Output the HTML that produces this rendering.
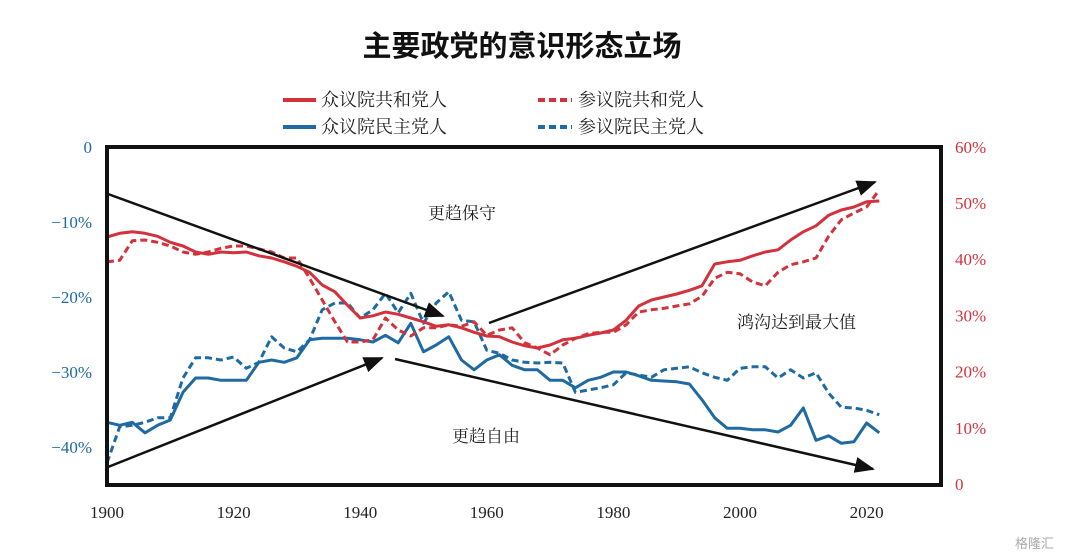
<!DOCTYPE html>
<html><head><meta charset="utf-8">
<style>
html,body{margin:0;padding:0;background:#fff;width:1080px;height:558px;overflow:hidden}
svg{display:block}
.serif{font-family:"Liberation Serif","Noto Serif CJK SC",serif}
.title{font-family:"Liberation Sans","Noto Sans CJK SC",sans-serif;font-weight:bold}
</style></head>
<body>
<svg id="chart" width="1080" height="558" viewBox="0 0 1080 558" xmlns="http://www.w3.org/2000/svg">
  <text class="title" x="522" y="56" font-size="29" text-anchor="middle" fill="#111">主要政党的意识形态立场</text>
  <g class="serif" font-size="18" fill="#222">
    <g>
      <line x1="283" y1="100" x2="316" y2="100" stroke="#d2323c" stroke-width="4"/>
      <text x="321" y="106">众议院共和党人</text>
    </g>
    <g>
      <line x1="538" y1="100" x2="572" y2="100" stroke="#d2323c" stroke-width="4" stroke-dasharray="7,4"/>
      <text x="578" y="106">参议院共和党人</text>
    </g>
    <g>
      <line x1="283" y1="127" x2="316" y2="127" stroke="#1f6aa0" stroke-width="4"/>
      <text x="321" y="133">众议院民主党人</text>
    </g>
    <g>
      <line x1="538" y1="127" x2="572" y2="127" stroke="#1f6aa0" stroke-width="4" stroke-dasharray="7,4"/>
      <text x="578" y="133">参议院民主党人</text>
    </g>
  </g>
  <g id="leftTicks" class="serif" font-size="17" fill="#1f6aa0"></g>
  <g id="rightTicks" class="serif" font-size="17" fill="#d2323c"></g>
  <g id="xTicks" class="serif" font-size="17" fill="#222"></g>
  <g id="series"></g>
  <rect x="107" y="147" width="834" height="338" fill="none" stroke="#111" stroke-width="4"/>
  <defs>
    <marker id="ah" markerWidth="20" markerHeight="16" refX="18" refY="8" orient="auto" markerUnits="userSpaceOnUse" viewBox="0 0 20 16">
      <path d="M0,0 L20,8 L0,16 z" fill="#111"/>
    </marker>
  </defs>
  <g stroke="#111" stroke-width="2.5">
    <line x1="108" y1="194" x2="443" y2="316" marker-end="url(#ah)"/>
    <line x1="108" y1="467" x2="382" y2="358" marker-end="url(#ah)"/>
    <line x1="395" y1="359" x2="873" y2="469" marker-end="url(#ah)"/>
    <line x1="489" y1="323" x2="875" y2="182" marker-end="url(#ah)"/>
  </g>
  <g class="serif" font-size="17" fill="#222">
    <text x="428" y="219">更趋保守</text>
    <text x="452" y="442">更趋自由</text>
    <text x="737" y="328">鸿沟达到最大值</text>
  </g>
  <text x="1015" y="548" font-size="13" fill="#aaa" font-family="Liberation Sans,Noto Sans CJK SC,sans-serif">格隆汇</text>
</svg>
<script>
const years = [];
for (let y = 1900; y <= 2022; y += 2) years.push(y);
const houseRep = [-12.0,-11.5,-11.3,-11.5,-11.9,-12.7,-13.2,-14.0,-14.3,-14.0,-14.1,-14.0,-14.5,-14.8,-15.3,-15.9,-16.7,-18.4,-19.3,-21.1,-22.8,-22.5,-22.0,-22.3,-22.8,-23.3,-23.9,-23.7,-24.1,-24.7,-25.2,-25.3,-26.0,-26.5,-26.8,-26.4,-25.7,-25.5,-25.1,-24.8,-24.4,-23.1,-21.2,-20.4,-20.0,-19.6,-19.1,-18.5,-15.6,-15.3,-15.1,-14.5,-14.0,-13.7,-12.4,-11.3,-10.5,-9.1,-8.4,-8.0,-7.3,-7.2];
const senateRep = [-15.3,-15.1,-12.5,-12.4,-12.7,-13.2,-14.0,-14.3,-14.0,-13.5,-13.2,-13.2,-13.6,-14.0,-14.8,-14.8,-17.5,-20.4,-23.3,-26.0,-26.0,-25.7,-22.8,-24.4,-25.2,-24.1,-24.1,-23.7,-23.9,-23.3,-25.1,-24.4,-24.1,-26.1,-26.8,-27.7,-26.4,-25.5,-24.9,-24.7,-24.7,-23.7,-22.0,-21.7,-21.5,-21.2,-20.9,-19.9,-17.5,-16.7,-16.9,-18.0,-18.5,-16.7,-15.7,-15.3,-14.8,-11.9,-9.7,-8.8,-8.0,-5.7];
const houseDem = [-36.7,-37.1,-36.7,-38.1,-37.1,-36.4,-32.7,-30.8,-30.8,-31.1,-31.1,-31.1,-28.7,-28.4,-28.7,-28.1,-25.7,-25.5,-25.5,-25.5,-25.7,-26.0,-25.1,-26.1,-23.5,-27.3,-26.4,-25.3,-28.4,-29.7,-28.4,-27.7,-29.1,-29.7,-29.7,-31.1,-31.1,-32.1,-31.1,-30.7,-30.0,-30.0,-30.5,-31.1,-31.2,-31.3,-31.6,-33.7,-36.1,-37.5,-37.5,-37.7,-37.7,-38.0,-37.1,-34.8,-39.1,-38.5,-39.5,-39.3,-36.8,-38.1];
const senateDem = [-42.1,-37.3,-37.1,-36.7,-36.1,-36.1,-30.8,-28.1,-28.1,-28.4,-28.0,-29.5,-28.7,-25.3,-26.8,-27.3,-25.7,-21.7,-20.8,-20.8,-22.8,-21.7,-19.5,-22.1,-19.5,-23.5,-20.8,-19.3,-23.1,-23.3,-27.1,-27.5,-28.4,-28.7,-28.8,-28.7,-28.8,-32.7,-32.4,-32.1,-31.7,-30.1,-30.4,-30.7,-29.7,-29.5,-29.3,-30.1,-30.7,-31.1,-29.5,-29.3,-29.3,-30.8,-29.7,-30.8,-30.1,-32.8,-34.7,-34.8,-35.1,-35.7];
const leftTickValues = [0,-10,-20,-30,-40];
const leftTickLabels = ["0","−10%","−20%","−30%","−40%"];
const rightTickValues = [60,50,40,30,20,10,0];
const rightTickLabels = ["60%","50%","40%","30%","20%","10%","0"];
const xTickValues = [1900,1920,1940,1960,1980,2000,2020];

const NS = "http://www.w3.org/2000/svg";
const xScale = yr => 107 + (yr - 1900) * 6.33;
const yLeft = v => 147 - v * 7.5;
const yRight = v => 484 - v * 5.62;

const lt = document.getElementById('leftTicks');
leftTickValues.forEach((v,i)=>{
  const t = document.createElementNS(NS,'text');
  t.setAttribute('x', 92); t.setAttribute('y', yLeft(v)+6);
  t.setAttribute('text-anchor','end');
  t.textContent = leftTickLabels[i];
  
  
  lt.appendChild(t);
});
const rt = document.getElementById('rightTicks');
rightTickValues.forEach((v,i)=>{
  const t = document.createElementNS(NS,'text');
  t.setAttribute('x', 955); t.setAttribute('y', yRight(v)+6);
  t.textContent = rightTickLabels[i];
  
  
  rt.appendChild(t);
});
const xt = document.getElementById('xTicks');
xTickValues.forEach(v=>{
  const t = document.createElementNS(NS,'text');
  t.setAttribute('x', xScale(v)); t.setAttribute('y', 518);
  t.setAttribute('text-anchor','middle');
  t.textContent = String(v);
  
  
  xt.appendChild(t);
});
const sg = document.getElementById('series');
function drawLine(vals, color, dashed, name){
  const p = document.createElementNS(NS,'polyline');
  p.setAttribute('points', vals.map((v,i)=>xScale(years[i]).toFixed(1)+','+yLeft(v).toFixed(1)).join(' '));
  p.setAttribute('fill','none');
  p.setAttribute('stroke', color);
  p.setAttribute('stroke-width', 3);
  p.setAttribute('stroke-linejoin','round');
  if (dashed) p.setAttribute('stroke-dasharray','7,4');
  
  
  sg.appendChild(p);
}
drawLine(senateDem, '#1f6aa0', true, 'line-senate-democrats');
drawLine(houseDem, '#1f6aa0', false, 'line-house-democrats');
drawLine(senateRep, '#d2323c', true, 'line-senate-republicans');
drawLine(houseRep, '#d2323c', false, 'line-house-republicans');
</script>
</body></html>
